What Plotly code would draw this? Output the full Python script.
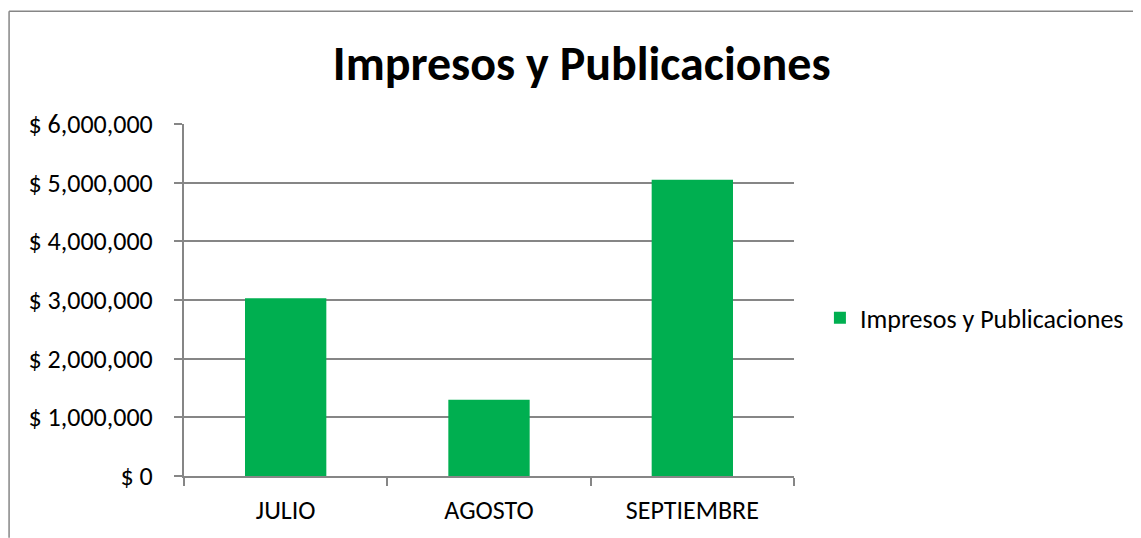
import plotly.graph_objects as go

categories = ["JULIO", "AGOSTO", "SEPTIEMBRE"]
values = [3030000, 1300000, 5050000]
series_name = "Impresos y Publicaciones"
tick_vals = [0, 1000000, 2000000, 3000000, 4000000, 5000000, 6000000]
tick_text = ["$ 0", "$ 1,000,000", "$ 2,000,000", "$ 3,000,000", "$ 4,000,000", "$ 5,000,000", "$ 6,000,000"]

OFF = 8  # browser body margin
W, H = 1141 - OFF, 538 - OFF
L, T = 184 - OFF, 124 - OFF
pw, ph = 612, 354
R = W - L - pw
B = H - T - ph

def sx(px):  # screen px -> paper x
    return (px - OFF - L) / pw

def sy(py):  # screen px -> paper y
    return (H - B - (py - OFF)) / ph

font_family = "Carlito, Lato, 'Open Sans', sans-serif"
FS = 26
border = dict(color="#868686", width=1.5)

fig = go.Figure()
fig.add_trace(go.Bar(
    x=categories, y=values, name=series_name,
    marker=dict(color="#00AF50", line=dict(width=0)),
    showlegend=True,
))

fig.update_layout(
    width=W, height=H,
    margin=dict(l=L, r=R, t=T, b=B),
    paper_bgcolor="white", plot_bgcolor="white",
    font=dict(family=font_family, size=FS, color="black"),
    title=dict(text="<b>Impresos y Publicaciones</b>", x=sx(583), xref="paper",
               xanchor="center", y=1 - (63 - OFF) / H, yanchor="middle",
               font=dict(size=48, family=font_family, color="black")),
    bargap=0.6,
    showlegend=True,
    legend=dict(x=sx(822), xanchor="left", y=sy(319), yanchor="middle",
                font=dict(size=FS, family=font_family), bgcolor="rgba(0,0,0,0)",
                itemwidth=30),
    xaxis=dict(
        showline=True, linecolor="#868686", linewidth=2,
        ticks="outside", ticklen=8, tickcolor="#868686", tickwidth=2,
        tickson="boundaries", showgrid=False, ticklabelstandoff=10,
        tickfont=dict(size=FS, family=font_family),
    ),
    yaxis=dict(
        range=[0, 6000000], tickvals=tick_vals, ticktext=tick_text,
        showline=True, linecolor="#868686", linewidth=2,
        ticks="outside", ticklen=8, tickcolor="#868686", tickwidth=2,
        showgrid=True, gridcolor="#868686", gridwidth=2, ticklabelstandoff=16,
        zeroline=False, tickfont=dict(size=FS, family=font_family),
    ),
    shapes=[
        dict(type="line", xref="paper", yref="paper",
             x0=sx(8.5), x1=sx(8.5), y0=sy(540), y1=sy(10.5), line=border, layer="below"),
        dict(type="line", xref="paper", yref="paper",
             x0=sx(8.5), x1=sx(1145), y0=sy(10.5), y1=sy(10.5), line=border, layer="below"),
    ],
)

fig.write_html("out.html")
